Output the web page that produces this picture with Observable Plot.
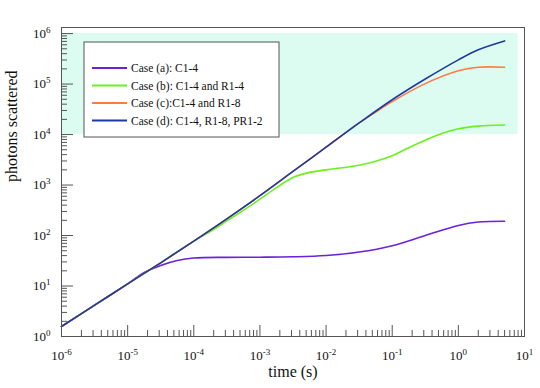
<!DOCTYPE html>
<html>
<head>
<meta charset="utf-8">
<script src="https://cdn.jsdelivr.net/npm/d3@7"></script>
<script src="https://cdn.jsdelivr.net/npm/@observablehq/plot@0.6"></script>
<style>
  html, body { margin: 0; padding: 0; background: #fff; }
  #chart { width: 540px; height: 388px; }
  svg { font-family: "Liberation Serif", "Times New Roman", serif; }
</style>
</head>
<body>
<div id="chart"></div>
<script>
// time (s) and photons scattered
const timeA = [1e-6, 1e-5, 1.78e-5, 3.16e-5, 5.62e-5, 1e-4, 3.16e-4, 1e-3, 3.16e-3, 1e-2, 3.16e-2, 0.1, 0.316, 1, 2, 5];
const photonsA = [1.58, 11.0, 18.5, 25.5, 32, 35.8, 37, 37.2, 37.9, 40.2, 47.1, 63, 100, 158, 185, 192];

const timeB = [1e-6, 3.16e-6, 1e-5, 3.16e-5, 1e-4, 1.78e-4, 3.16e-4, 5.62e-4, 1e-3, 1.78e-3, 3.16e-3, 5.62e-3, 1e-2, 3.16e-2, 5.62e-2, 0.1, 0.178, 0.316, 0.562, 1, 2, 5];
const photonsB = [1.58, 4.17, 11.0, 28.8, 77.6, 120, 195, 316, 525, 890, 1410, 1780, 2000, 2470, 2950, 3800, 5500, 7700, 10500, 13000, 14700, 15500];

const timeC = [1e-6, 3.16e-6, 1e-5, 3.16e-5, 1e-4, 3.16e-4, 1e-3, 3.16e-3, 1e-2, 3.16e-2, 5.62e-2, 0.1, 0.316, 1, 2, 5];
const photonsC = [1.58, 4.17, 11.0, 28.8, 77.6, 214, 617, 1860, 5620, 17000, 27900, 45000, 102000, 183000, 216000, 215000];

const timeD = [1e-6, 3.16e-6, 1e-5, 3.16e-5, 1e-4, 3.16e-4, 1e-3, 3.16e-3, 1e-2, 3.16e-2, 0.1, 0.316, 1, 2, 5];
const photonsD = [1.58, 4.17, 11.0, 28.8, 77.6, 214, 617, 1860, 5620, 17000, 49000, 126000, 302000, 479000, 716000];

const seriesNames = ["Case (a): C1-4", "Case (b): C1-4 and R1-4", "Case (c):C1-4 and R1-8", "Case (d): C1-4, R1-8, PR1-2"];
const seriesColors = ["#6a22d8", "#6af01e", "#ff7a45", "#1d3b9e"];

// shaded region
const bandTime = [1e-6, 8];
const bandPhotons = [1e4, 1e6];

// ticks
const xMajor = [1e-6, 1e-5, 1e-4, 1e-3, 1e-2, 1e-1, 1, 10];
const xExponents = ["-6", "-5", "-4", "-3", "-2", "-1", "0", "1"];
const yMajor = [1, 10, 100, 1e3, 1e4, 1e5, 1e6];
const yExponents = ["0", "1", "2", "3", "4", "5", "6"];

const minorOf = (majors) => majors.slice(0, -1).flatMap(m => [2,3,4,5,6,7,8,9].map(k => k * m));
const xMinor = minorOf(xMajor);
const yMinor = minorOf(yMajor).filter(v => v <= 1.3e6);

const allSeries = [
  [timeA, photonsA], [timeB, photonsB], [timeC, photonsC], [timeD, photonsD]
];
const rows = allSeries.flatMap(([t, p], i) => t.map((tv, j) => ({t: tv, n: p[j], s: seriesNames[i]})));

const expX = new Map(xMajor.map((v, i) => [v, xExponents[i]]));
const expY = new Map(yMajor.map((v, i) => [v, yExponents[i]]));

const chart = Plot.plot({
  width: 540,
  height: 388,
  marginLeft: 61,
  marginRight: 16,
  marginTop: 27,
  marginBottom: 52,
  style: {fontFamily: "'Liberation Serif', 'Times New Roman', serif", background: "#fff"},
  x: {type: "log", domain: [1e-6, 10], axis: null, label: null},
  y: {type: "log", domain: [1, 1.32e6], axis: null, label: null},
  color: {domain: seriesNames, range: seriesColors},
  marks: [
    Plot.rect([0], {x1: () => bandTime[0], x2: () => bandTime[1], y1: () => bandPhotons[0], y2: () => bandPhotons[1], fill: "#dcfbf1"}),
    Plot.axisX(xMajor, {anchor: "bottom", label: null, tickSize: -11, tickFormat: () => "", stroke: "#555"}),
    Plot.axisX(xMinor, {anchor: "bottom", label: null, tickSize: -6, tickFormat: () => "", stroke: "#555"}),
    Plot.axisY(yMajor, {anchor: "left", label: null, tickSize: -12, tickFormat: () => "", stroke: "#555"}),
    Plot.axisY(yMinor, {anchor: "left", label: null, tickSize: -6, tickFormat: () => "", stroke: "#555"}),
    Plot.axisX(xMajor, {anchor: "bottom", label: null, tickSize: 0, tickPadding: 14, fontSize: 13, fill: "#111", tickFormat: d => "10^" + expX.get(d)}),
    Plot.axisY(yMajor, {anchor: "left", label: null, tickSize: 0, tickPadding: 11, fontSize: 13, fill: "#111", tickFormat: d => "10^" + expY.get(d)}),
    Plot.line(rows, {x: "t", y: "n", z: "s", stroke: "s", strokeWidth: 1.6, curve: "catmull-rom"}),
    Plot.frame({stroke: "#555", strokeWidth: 1}),
    Plot.text(["photons scattered"], {frameAnchor: "left", rotate: -90, dx: -50, fontSize: 16, fill: "#111"}),
    Plot.text(["time (s)"], {frameAnchor: "bottom", dy: 40, fontSize: 16, fill: "#111"})
  ]
});

document.getElementById("chart").appendChild(chart);

// superscript exponents on tick labels
d3.select(chart).selectAll('g[aria-label$="tick label"] text').each(function() {
  const txt = this.textContent;
  const idx = txt.indexOf("^");
  if (idx < 0) return;
  const base = txt.slice(0, idx), sup = txt.slice(idx + 1);
  const el = d3.select(this);
  el.text(base);
  el.append("tspan").attr("dy", "-0.55em").attr("font-size", 9).text(sup);
});

// legend box
const svg = d3.select(chart);
const lg = svg.append("g").attr("transform", "translate(84,42)").attr("text-anchor", "start")
  .attr("font-family", "'Liberation Serif', 'Times New Roman', serif");
lg.append("rect").attr("width", 195).attr("height", 95).attr("fill", "#fff").attr("stroke", "#555").attr("stroke-width", 1);
seriesNames.forEach((name, i) => {
  const yy = 26 + i * 17.5;
  lg.append("line").attr("x1", 8).attr("x2", 43).attr("y1", yy).attr("y2", yy)
    .attr("stroke", seriesColors[i]).attr("stroke-width", 1.8);
  lg.append("text").attr("x", 47).attr("y", yy).attr("dy", "0.35em")
    .attr("text-anchor", "start").attr("font-size", 11.5).attr("fill", "#111").text(name);
});
</script>
</body>
</html>
